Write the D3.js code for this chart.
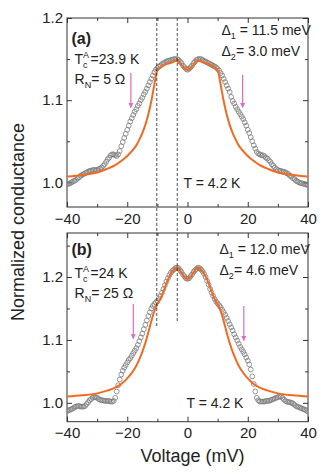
<!DOCTYPE html>
<html>
<head>
<meta charset="utf-8">
<script src="https://cdn.jsdelivr.net/npm/d3@7"></script>
<style>
  html, body { margin: 0; padding: 0; background: #fff; }
  svg text { font-family: "Liberation Sans", Arial, Helvetica, sans-serif; fill: #222; }
</style>
</head>
<body>
<div id="chart"></div>
<script>
// bias voltage grid of the measured curves (mV)
const biasMv = [
  -40,-39.5,-39,-38.5,-38,-37.5,-37,-36.5,-36,-35.5,-35,-34.5,-34,-33.5,-33,-32.5,-32,-31.5,-31,-30.5,
  -30,-29.5,-29,-28.5,-28,-27.5,-27,-26.5,-26,-25.5,-25,-24.5,-24,-23.5,-23,-22.5,-22,-21.5,-21,-20.5,
  -20,-19.5,-19,-18.5,-18,-17.5,-17,-16.5,-16,-15.5,-15,-14.5,-14,-13.5,-13,-12.5,-12,-11.5,-11,-10.5,
  -10,-9.5,-9,-8.5,-8,-7.5,-7,-6.5,-6,-5.5,-5,-4.5,-4,-3.5,-3,-2.5,-2,-1.5,-1,-0.5,
  0,0.5,1,1.5,2,2.5,3,3.5,4,4.5,5,5.5,6,6.5,7,7.5,8,8.5,9,9.5,
  10,10.5,11,11.5,12,12.5,13,13.5,14,14.5,15,15.5,16,16.5,17,17.5,18,18.5,19,19.5,
  20,20.5,21,21.5,22,22.5,23,23.5,24,24.5,25,25.5,26,26.5,27,27.5,28,28.5,29,29.5,
  30,30.5,31,31.5,32,32.5,33,33.5,34,34.5,35,35.5,36,36.5,37,37.5,38,38.5,39,39.5,40
];

// panel (a) measured normalized conductance
const measuredA = [
  0.998,0.998,0.999,1.000,1.001,1.002,1.003,1.005,1.006,1.008,1.009,1.010,1.011,1.012,1.013,1.014,1.014,1.015,1.015,1.015,
  1.015,1.016,1.017,1.018,1.020,1.022,1.025,1.028,1.030,1.033,1.034,1.034,1.033,1.032,1.034,1.038,1.044,1.049,1.054,1.059,
  1.064,1.069,1.074,1.078,1.082,1.086,1.089,1.093,1.096,1.100,1.103,1.107,1.110,1.114,1.118,1.122,1.126,1.130,1.134,1.137,
  1.139,1.141,1.142,1.144,1.145,1.146,1.147,1.148,1.148,1.149,1.149,1.150,1.150,1.150,1.149,1.147,1.145,1.142,1.140,1.138,
  1.137,1.138,1.140,1.142,1.145,1.147,1.149,1.150,1.150,1.150,1.149,1.148,1.147,1.146,1.145,1.144,1.143,1.142,1.141,1.140,
  1.138,1.136,1.133,1.130,1.126,1.122,1.118,1.114,1.110,1.104,1.099,1.096,1.092,1.089,1.086,1.083,1.080,1.077,1.073,1.069,
  1.064,1.060,1.055,1.050,1.045,1.041,1.037,1.035,1.034,1.033,1.033,1.032,1.030,1.029,1.027,1.025,1.022,1.020,1.018,1.016,
  1.015,1.014,1.014,1.013,1.013,1.012,1.011,1.010,1.008,1.007,1.005,1.004,1.002,1.001,1.000,0.999,0.999,0.998,0.998,0.997,0.997
];

// panel (b) measured normalized conductance
const measuredB = [
  0.987,0.988,0.989,0.990,0.991,0.993,0.994,0.995,0.995,0.994,0.994,0.994,0.995,0.998,1.001,1.004,1.006,1.008,1.009,1.009,
  1.008,1.006,1.005,1.004,1.004,1.003,1.003,1.003,1.003,1.002,1.002,1.003,1.008,1.018,1.028,1.037,1.045,1.051,1.056,1.060,
  1.064,1.068,1.071,1.075,1.079,1.083,1.087,1.092,1.098,1.104,1.110,1.117,1.124,1.131,1.138,1.144,1.150,1.154,1.157,1.160,
  1.162,1.166,1.170,1.175,1.181,1.187,1.193,1.198,1.203,1.207,1.210,1.212,1.214,1.215,1.214,1.211,1.208,1.204,1.201,1.198,
  1.197,1.198,1.201,1.204,1.208,1.211,1.213,1.215,1.214,1.212,1.209,1.205,1.200,1.194,1.188,1.181,1.175,1.170,1.165,1.161,
  1.158,1.155,1.152,1.148,1.144,1.140,1.135,1.130,1.125,1.120,1.115,1.109,1.104,1.099,1.094,1.089,1.085,1.081,1.077,1.072,
  1.067,1.061,1.053,1.042,1.030,1.018,1.008,1.004,1.002,1.002,1.002,1.002,1.003,1.003,1.003,1.004,1.005,1.006,1.007,1.008,
  1.009,1.010,1.010,1.008,1.005,1.003,1.002,1.001,1.001,1.000,0.999,0.997,0.995,0.994,0.993,0.992,0.991,0.990,0.989,0.988,0.986
];

// fitted curves (orange), on their own voltage grid
const fitMv = [-40,-35,-30,-27,-24,-22,-20,-18,-17,-16,-15,-14,-13,-12,-11,-10,-9,-8,-7,-6,-5,-4,-3.4,-3,-2,-1,
  0,1,2,3,3.4,4,5,6,7,8,9,10,11,12,13,14,15,16,17,18,20,22,24,27,30,35,40];
const fitA = [1.007,1.009,1.012,1.016,1.021,1.026,1.032,1.040,1.045,1.052,1.060,1.070,1.083,1.099,1.119,1.137,1.140,1.142,1.144,1.145,1.146,1.148,1.149,1.148,1.143,1.139,
  1.137,1.139,1.143,1.148,1.149,1.148,1.146,1.145,1.144,1.142,1.140,1.137,1.119,1.099,1.083,1.070,1.060,1.052,1.045,1.040,1.032,1.026,1.021,1.016,1.012,1.009,1.007];
const fitB = [1.010,1.012,1.015,1.019,1.024,1.030,1.039,1.051,1.059,1.069,1.081,1.095,1.112,1.130,1.146,1.157,1.165,1.177,1.190,1.201,1.209,1.214,1.215,1.214,1.207,1.200,
  1.197,1.200,1.207,1.214,1.215,1.214,1.209,1.201,1.190,1.177,1.165,1.157,1.146,1.130,1.112,1.095,1.081,1.069,1.059,1.051,1.039,1.030,1.024,1.019,1.015,1.012,1.010];

// gap positions marked by dashed lines (mV)
const gapMarksMv = [-10.2, -3.4];

// axis ticks
const xMajorTicks = [-40, -20, 0, 20, 40];
const xMinorTicks = [-30, -10, 10, 30];
const yMajorTicks = [1.0, 1.1, 1.2];
const yMinorTicks = [0.95, 1.05, 1.15, 1.25];

const width = 332, height = 476;
const left = 67, right = 308;

const panels = [
  { tag: "(a)", top: 18, bottom: 207, yDomain: [0.97, 1.2], measured: measuredA, fit: fitA,
    tc: "=23.9 K", rn: "5 Ω", d1: "11.5", d2: "3.0",
    arrows: [[-18.8, 1.133, 1.091], [18.3, 1.131, 1.091]] },
  { tag: "(b)", top: 233, bottom: 421.7, yDomain: [0.97, 1.27], measured: measuredB, fit: fitB,
    tc: "=24 K", rn: "25 Ω", d1: "12.0", d2: "4.6",
    arrows: [[-18.0, 1.157, 1.102], [18.7, 1.154, 1.099]] }
];

const svg = d3.select("#chart").append("svg")
  .attr("width", width)
  .attr("height", height);

const defs = svg.append("defs");
defs.append("marker")
  .attr("id", "arrowhead")
  .attr("viewBox", "0 0 10 10")
  .attr("refX", 9).attr("refY", 5)
  .attr("markerWidth", 5).attr("markerHeight", 6)
  .attr("markerUnits", "userSpaceOnUse")
  .attr("orient", "auto")
  .append("path")
  .attr("d", "M0,0 L10,5 L0,10 z")
  .attr("fill", "#dc6cc0");

const x = d3.scaleLinear().domain([-40, 40]).range([left, right]);

panels.forEach((p, pi) => {
  const y = d3.scaleLinear().domain(p.yDomain).range([p.bottom, p.top]);
  const g = svg.append("g");

  // ticks: inward, major + minor, on all four sides
  const tickStyle = sel => {
    sel.select(".domain").remove();
    sel.selectAll("line").attr("stroke", "#333").attr("stroke-width", 1);
    sel.selectAll("text").style("font-size", "15px").attr("fill", "#222");
  };
  g.append("g").attr("transform", `translate(0,${p.bottom})`)
    .call(d3.axisBottom(x).tickValues(xMajorTicks).tickSize(-5).tickPadding(6).tickFormat(d3.format("d")))
    .call(tickStyle);
  g.append("g").attr("transform", `translate(0,${p.bottom})`)
    .call(d3.axisBottom(x).tickValues(xMinorTicks).tickSize(-3).tickFormat(""))
    .call(tickStyle);
  g.append("g").attr("transform", `translate(0,${p.top})`)
    .call(d3.axisTop(x).tickValues(xMajorTicks).tickSize(-5).tickFormat(""))
    .call(tickStyle);
  g.append("g").attr("transform", `translate(0,${p.top})`)
    .call(d3.axisTop(x).tickValues(xMinorTicks).tickSize(-3).tickFormat(""))
    .call(tickStyle);
  const inY = v => v > p.yDomain[0] && v <= p.yDomain[1] + 1e-9;
  g.append("g").attr("transform", `translate(${left},0)`)
    .call(d3.axisLeft(y).tickValues(yMajorTicks.filter(inY)).tickSize(-5).tickPadding(4).tickFormat(d3.format(".1f")))
    .call(tickStyle);
  g.append("g").attr("transform", `translate(${left},0)`)
    .call(d3.axisLeft(y).tickValues(yMinorTicks.filter(inY)).tickSize(-3).tickFormat(""))
    .call(tickStyle);
  g.append("g").attr("transform", `translate(${right},0)`)
    .call(d3.axisRight(y).tickValues(yMajorTicks.filter(inY)).tickSize(-5).tickFormat(""))
    .call(tickStyle);
  g.append("g").attr("transform", `translate(${right},0)`)
    .call(d3.axisRight(y).tickValues(yMinorTicks.filter(inY)).tickSize(-3).tickFormat(""))
    .call(tickStyle);

  // frame
  g.append("rect")
    .attr("x", left).attr("y", p.top)
    .attr("width", right - left).attr("height", p.bottom - p.top)
    .attr("fill", "none").attr("stroke", "#333").attr("stroke-width", 1);

  // measured data: open circles
  const clipId = "clip" + pi;
  defs.append("clipPath").attr("id", clipId)
    .append("rect").attr("x", left).attr("y", p.top)
    .attr("width", right - left).attr("height", p.bottom - p.top);
  const plot = g.append("g").attr("clip-path", `url(#${clipId})`);

  plot.selectAll("circle.meas")
    .data(biasMv.map((v, i) => [v, p.measured[i]]))
    .enter().append("circle")
    .attr("class", "meas")
    .attr("cx", d => x(d[0]))
    .attr("cy", d => y(d[1]))
    .attr("r", 2.4)
    .attr("fill", "none")
    .attr("stroke", "#7a7a7a")
    .attr("stroke-width", 0.8);

  // fit curve
  const line = d3.line()
    .x(d => x(d[0]))
    .y(d => y(d[1]))
    .curve(d3.curveMonotoneX);
  plot.append("path")
    .datum(fitMv.map((v, i) => [v, p.fit[i]]))
    .attr("d", line)
    .attr("fill", "none")
    .attr("stroke", "#f26a21")
    .attr("stroke-width", 2);

  // pink arrows
  p.arrows.forEach(a => {
    g.append("line")
      .attr("x1", x(a[0])).attr("y1", y(a[1]))
      .attr("x2", x(a[0])).attr("y2", y(a[2]))
      .attr("stroke", "#dc6cc0")
      .attr("stroke-width", 1.2)
      .attr("marker-end", "url(#arrowhead)");
  });

  // labels
  g.append("text")
    .attr("x", 71.5).attr("y", p.top + (pi === 0 ? 25.5 : 22))
    .style("font-size", "16px").style("font-weight", "bold")
    .text(p.tag);

  const tcY = p.top + (pi === 0 ? 45.5 : 45.3);
  const tc = g.append("text").attr("x", 74.5).attr("y", tcY).style("font-size", "14px");
  tc.append("tspan").text("T");
  tc.append("tspan").attr("dy", -6).style("font-size", "9px").text("A");
  tc.append("tspan").attr("dx", -6).attr("dy", 10).style("font-size", "9px").text("c");
  tc.append("tspan").attr("dx", 3).attr("dy", -4).text(p.tc);

  const rn = g.append("text").attr("x", 74.5).attr("y", tcY + 20).style("font-size", "14px");
  rn.append("tspan").text("R");
  rn.append("tspan").attr("dy", 4).style("font-size", "9px").text("N");
  rn.append("tspan").attr("dy", -4).text("= " + p.rn);

  const dX = pi === 0 ? 221.5 : 219.5;
  const d1Y = pi === 0 ? 35 : 254;
  const d1 = g.append("text").attr("x", dX).attr("y", d1Y).style("font-size", "14px");
  d1.append("tspan").text("Δ");
  d1.append("tspan").attr("dy", 4).style("font-size", "9px").text("1");
  d1.append("tspan").attr("dy", -4).text(" = " + p.d1 + " meV");

  const d2 = g.append("text").attr("x", dX).attr("y", d1Y + 20.5).style("font-size", "14px");
  d2.append("tspan").text("Δ");
  d2.append("tspan").attr("dy", 4).style("font-size", "9px").text("2");
  d2.append("tspan").attr("dy", -4).text("= " + p.d2 + " meV");

  g.append("text")
    .attr("x", pi === 0 ? 183.5 : 186.5)
    .attr("y", pi === 0 ? 188.3 : 408.3)
    .style("font-size", "14px")
    .text("T = 4.2 K");
});

// dashed gap markers spanning both panels
const yTop = panels[0].top;
svg.selectAll("line.gap")
  .data(gapMarksMv)
  .enter().append("line")
  .attr("class", "gap")
  .attr("x1", d => x(d)).attr("x2", d => x(d))
  .attr("y1", yTop).attr("y2", (d, i) => i === 0 ? 327 : 323)
  .attr("stroke", "#222")
  .attr("stroke-width", 0.8)
  .attr("stroke-dasharray", "3,2");

// axis titles
svg.append("text")
  .attr("x", (left + right) / 2 + 5).attr("y", 462)
  .attr("text-anchor", "middle")
  .style("font-size", "18px")
  .text("Voltage (mV)");

svg.append("text")
  .attr("transform", "translate(24,222) rotate(-90)")
  .attr("text-anchor", "middle")
  .style("font-size", "18px")
  .text("Normalized conductance");
</script>
</body>
</html>
